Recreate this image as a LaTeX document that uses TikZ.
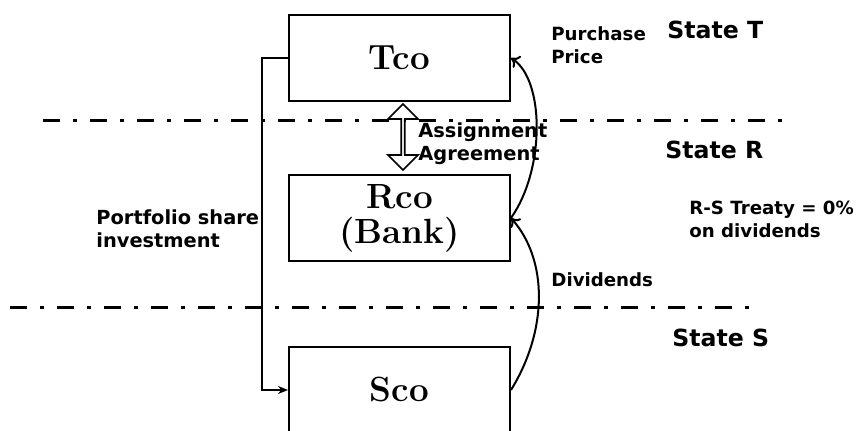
\documentclass[tikz,border=0pt]{standalone}
\usepackage{fontspec}
\newfontfamily\lblfont{DejaVu Sans}
\usetikzlibrary{shapes.arrows,arrows.meta,positioning}

\begin{document}
\begin{tikzpicture}[x=0.5pt, y=-0.5pt,
			      firm/.style={rectangle, draw, line width=1pt, minimum width=110.5pt, minimum height=43pt, align=center, font=\fontsize{17.5}{17.5}\selectfont\bfseries},
			      lbl/.style={anchor=west, inner sep=0pt, align=left, font=\lblfont\fontsize{9.1}{11.5}\selectfont\bfseries},
			      statelbl/.style={anchor=west, inner sep=0pt, font=\lblfont\fontsize{11.8}{13}\selectfont\bfseries},
			      border/.style={line width=1.5pt, dash pattern=on 8.5pt off 6.5pt on 2pt off 6.5pt},
			      flow/.style={line width=1pt, -{To[length=4pt, width=7pt]}},
			      invest/.style={line width=1.3pt, -{Stealth[length=5pt, width=4pt]}},
			      agree/.style={double arrow, draw, fill=white, line width=0.8pt, shape border rotate=90, minimum height=33pt, minimum width=15pt, double arrow head extend=3pt, inner sep=0pt}]
		      \useasboundingbox (0,0) rectangle (857,431);
		      \draw[border] (43,121) -- (786,121);
		      \draw[border] (10,308) -- (758,308);
		      \node[firm] (Tco) at (399.5,58) {Tco};
		      \node[firm] (Rco) at (399.5,218) {Rco\\(Bank)};
		      \node[firm] (Sco) at (399.5,390) {Sco};
		      \node[agree] (agr) at (403,137) {};
		      \node[lbl, font=\lblfont\fontsize{9.7}{11.5}\selectfont\bfseries] (assign) at (418,144) {Assignment\\Agreement};
		      \node[lbl] (price) at (551,45) {Purchase\\Price};
		      \node[lbl] (div) at (551,280) {Dividends};
		      \node[lbl, font=\lblfont\fontsize{9.7}{11.5}\selectfont\bfseries] (port) at (96,229) {Portfolio share\\investment};
		      \node[lbl] (treaty) at (689,219) {R-S Treaty = 0\%\\on dividends};
		      \node[statelbl] (stT) at (667,30) {State T};
		      \node[statelbl] (stR) at (665,150) {State R};
		      \node[statelbl] (stS) at (672,338) {State S};
		      \draw[invest] (Tco.west) -- ++(-26,0) |- (Sco.west);
		      \draw[flow] (Rco.east) .. controls (545,170) and (545,80) .. (Tco.east);
		      \draw[flow] (Sco.east) .. controls (548,330) and (548,260) .. (Rco.east);
	      \end{tikzpicture}
\end{document}
